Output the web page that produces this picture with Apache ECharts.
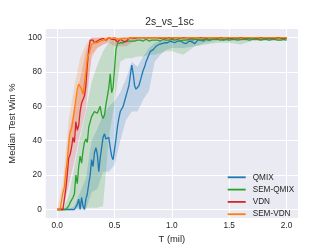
<!DOCTYPE html>
<html><head><meta charset="utf-8">
<script src="https://cdn.jsdelivr.net/npm/echarts@6/dist/echarts.min.js"></script>
<style>html,body{margin:0;padding:0;background:#fff}#c{width:332px;height:249px}</style>
</head><body><div id="c"></div>
<script>
const TITLE = '2s_vs_1sc';
const X_NAME = 'T (mil)';
const Y_NAME = 'Median Test Win %';
const X_TICKS = [0, 0.5, 1.0, 1.5, 2.0];
const Y_TICKS = [0, 20, 40, 60, 80, 100];
const NAMES = ['QMIX', 'SEM-QMIX', 'VDN', 'SEM-VDN'];
const COLORS = ['#1f77b4', '#2ca02c', '#d62728', '#ff7f0e'];

// evaluation timesteps (millions): every 12.5k up to 1.0M, then every 25k
const T = [];
for (let i = 0; i <= 80; i++) T.push(+(i * 0.0125).toFixed(4));
for (let i = 1; i <= 40; i++) T.push(+(1 + i * 0.025).toFixed(4));

const QMIX = [0,0,0,0,0,0,0,0,0,0,0,0,0,
  0,3,6,0,7,2,0,6,9,15,20,29,25,33,36,32,22,30,36,42,44,41,40,42,36,31,29,35,
  41,48,53,57,58,60,63,66,69,72,78,84,79,72,70,70,72,75,78,81,83,86,87,90,92,93,93,94,95,94.5,96,96,96.5,97,97,97.5,97,98,98,97.5,
  97,98,98,97,96.5,98,97.5,96.5,98.5,98.5,98,99,98.5,99,99,99,99.5,98.5,99,99.5,
  99.5,99,99.5,99.5,99,99.5,99.5,100,99.5,99.5,99,99.5,99.5,99.5,100,99.5,99.5,99.5,99.5,99.5];
const SEM_QMIX = [0,0,0,0,0,0,0,0,
  2,4,5,7,9,20,15,25,31,27,34,39,41,39,48,47,54,53,57,58,56,55,60,55,53,55,61,66,71,79,68,71,82,
  93,96.5,97.5,97,97.5,97,98,98,98.5,98,98.5,98,98.5,98,98.5,98.5,
  98,98.5,98.5,98,98.5,99,98.5,98,98.5,98.5,98,98.5,99,98.5,98.5,98,98.5,99,98.5,98.5,99,98.5,98.5,99,
  98.5,99,98,98.5,98.5,99,98.5,99,99,98.5,99,99,98.5,99,99,99,98.5,99,99,98.5,99,99,98.5,99,99,99,98.5,99,99,99,98.5,99,99,98.5,99,99,98.5,98.5,99,98.5];
const VDN = [0,0,0,0,0,
  1,12,20,30,32,36,42,39,51,46,49,57,62,61,66,72,84,93,98.5,98,98.5,97,97.5,98,98.5,99,99,99.5,99.5,98.5,99.5,100,99.5,99,98.5,99,
  98,97.5,98.5,99,98.5,98,97.5,97.5,98.5,99.5,
  99.5,100,99.5,99.5,100,100,99.5,100,99.5,100,100,99.5,100,100,99.5,100,100,100,99.5,100,100,99.5,100,100,100,99.5,100,100,100,99.5,
  100,100,99.5,100,100,100,99.5,100,100,100,100,99.5,100,100,100,99.5,100,100,100,100,99.5,100,100,100,99.5,100,100,100,100,99.5,100,100,100,100,99.5,100,100,100,99.5,100];
const SEM_VDN = [0,0,0,5,10,13,22,28,38,45,47,52,58,57,70,73,73,70,67,66,80,88,90,93,96,97,97,98,97,98,98,99,98.5,99,99,99.5,100,100,99.5,100,100,
  99.5,99,99,99,99.5,99.5,99.5,99.5,
  100,99.5,100,100,99.5,100,100,100,99.5,100,100,100,100,99.5,100,100,100,100,99.5,100,100,100,100,100,99.5,100,100,100,100,99.5,100,100,
  100,100,100,99.5,100,100,100,100,100,99.5,100,100,100,100,100,100,99.5,100,100,100,100,100,100,99.5,100,100,100,100,100,100,99.5,100,100,100,100,100,99.5,100,100,100];

// spread bands on a coarser grid
const BT = [0,0.05,0.1,0.15,0.2,0.25,0.3,0.35,0.4,0.45,0.5,0.55,0.6,0.65,0.7,0.75,0.8,0.85,0.9,0.95,1.0,1.1,1.2,1.3,1.4,1.5,1.6,1.7,1.8,1.9,2.0];
const QMIX_LO = [0,0,0,0,0,0,10,12,22,22,26,40,52,57,57,64,69,86,90,93,94,94,95,97,98,98,98,98.5,98.5,98.5,98.5];
const QMIX_HI = [0,0,0,2,10,18,40,47,55,60,63,68,76,86,83,89,94,97,98,99,99,99.5,99.5,100,100,100,100,100,100,100,100];
const SEM_QMIX_LO = [0,0,0,1,1,1,1,1,2,42,62,86,88,88,89,89,90,90,91,92,92,90,95,96,97,97,96,98,98,98,98];
const SEM_QMIX_HI = [0,0,8,25,42,57,74,84,92,97,99,100,100,100,100,100,100,100,100,100,100,100,100,100,100,100,100,100,100,100,100];
const VDN_LO = [0,0,14,28,44,58,90,94,96,97,95,95,95,97,99,99,99,99,99,99,99,99,99,99,99,99,99,99,99,99,99];
const VDN_HI = [0,2,44,60,76,92,100,100,100,100,100,100,100,100,100,100,100,100,100,100,100,100,100,100,100,100,100,100,100,100,100];
const SEM_VDN_LO = [0,0,26,45,56,66,88,94,96,98,98,99,99,99,99,99,99,99,99,99,99,99,99,99,99,99,99,99,99,99,99];
const SEM_VDN_HI = [0,16,52,72,88,96,100,100,100,100,100,100,100,100,100,100,100,100,100,100,100,100,100,100,100,100,100,100,100,100,100];

const LINES = [QMIX, SEM_QMIX, VDN, SEM_VDN];
const BANDS = [[QMIX_LO, QMIX_HI], [SEM_QMIX_LO, SEM_QMIX_HI], [VDN_LO, VDN_HI], [SEM_VDN_LO, SEM_VDN_HI]];

const FONT = 'Liberation Sans, Arial, sans-serif';
const TXT = '#262626';

function bandSeries(lo, hi, color) {
  return {
    type: 'custom', coordinateSystem: 'cartesian2d', silent: true, z: 1,
    data: [[BT[0], lo[0]]], encode: {x: 0, y: 1},
    renderItem: function (params, api) {
      const pts = [];
      for (let i = 0; i < BT.length; i++) pts.push(api.coord([BT[i], hi[i]]));
      for (let i = BT.length - 1; i >= 0; i--) pts.push(api.coord([BT[i], lo[i]]));
      return {type: 'polygon', shape: {points: pts}, style: {fill: color, opacity: 0.2}};
    }
  };
}

const series = [];
BANDS.forEach((b, k) => series.push(bandSeries(b[0], b[1], COLORS[k])));
LINES.forEach((arr, k) => series.push({
  name: NAMES[k], type: 'line', z: 3 + k, showSymbol: false, symbol: 'none',
  data: T.map((t, i) => [t, arr[i]]),
  lineStyle: {width: 1.3, color: COLORS[k]}, itemStyle: {color: COLORS[k]}
}));

const chart = echarts.init(document.getElementById('c'), null, {renderer: 'canvas'});
chart.setOption({
  animation: false,
  backgroundColor: '#ffffff',
  textStyle: {fontFamily: FONT},
  title: {text: TITLE, left: 169.5, textAlign: 'center', top: 17.5, padding: 0,
    textStyle: {fontFamily: FONT, fontSize: 10.3, fontWeight: 'normal', color: TXT}},
  grid: {left: 41, right: 34, top: 29, bottom: 27, show: true, backgroundColor: '#EAEAF2', borderWidth: 0, containLabel: false},
  legend: {
    data: NAMES, orient: 'vertical', left: 222.7, top: 166.3, itemWidth: 18, itemHeight: 1.8, itemGap: 0.3,
    icon: 'rect', selectedMode: false,
    textStyle: {fontFamily: FONT, fontSize: 8.2, color: TXT, lineHeight: 12, padding: [0, 0, 0, 2]}
  },
  xAxis: {
    type: 'value', min: -0.1, max: 2.1,
    name: X_NAME, nameLocation: 'middle', nameGap: 12,
    nameTextStyle: {fontFamily: FONT, fontSize: 9.4, color: TXT},
    axisLine: {show: false}, axisTick: {show: false, customValues: X_TICKS},
    axisLabel: {customValues: X_TICKS, margin: 4, fontFamily: FONT, fontSize: 8.3, color: TXT,
      formatter: v => v.toFixed(1)},
    splitLine: {show: true, lineStyle: {color: '#ffffff', width: 1}}
  },
  yAxis: {
    type: 'value', min: -5, max: 105,
    name: Y_NAME, nameLocation: 'middle', nameGap: 20,
    nameTextStyle: {fontFamily: FONT, fontSize: 9.4, color: TXT},
    axisLine: {show: false}, axisTick: {show: false, customValues: Y_TICKS},
    axisLabel: {customValues: Y_TICKS, margin: 4, fontFamily: FONT, fontSize: 8.3, color: TXT},
    splitLine: {show: true, lineStyle: {color: '#ffffff', width: 1}}
  },
  series: series
});
</script></body></html>
